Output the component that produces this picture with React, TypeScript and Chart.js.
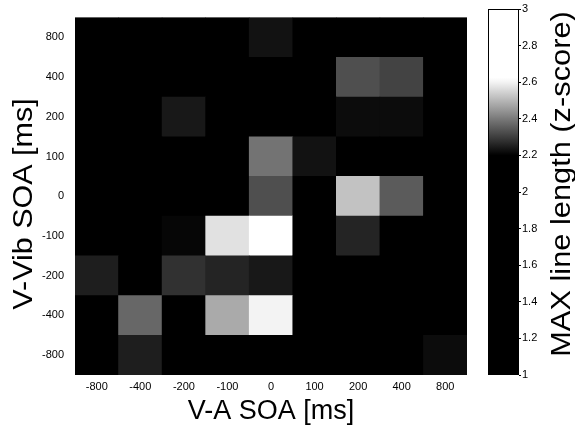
import React, { useEffect, useRef } from 'react';
import { Chart, registerables } from 'chart.js';

Chart.register(...registerables);

// Category labels (SOA in ms)
const X_LABELS = ['-800', '-400', '-200', '-100', '0', '100', '200', '400', '800'];
const Y_LABELS = ['-800', '-400', '-200', '-100', '0', '100', '200', '400', '800']; // bottom -> top

// MAX line length (z-score), one array per V-Vib SOA row, ordered by V-A SOA (X_LABELS)
const rowM800 = [1.4, 2.25, 1.7, 1.8, 1.9, 1.6, 1.5, 1.6, 2.22];
const rowM400 = [1.6, 2.37, 1.9, 2.48, 2.6, 1.8, 1.6, 1.5, 1.4];
const rowM200 = [2.25, 1.8, 2.28, 2.26, 2.24, 1.9, 1.7, 1.6, 1.5];
const rowM100 = [1.7, 1.9, 2.21, 2.57, 2.62, 2.05, 2.26, 1.9, 1.6];
const row0 = [1.6, 1.8, 1.9, 2.15, 2.33, 2.1, 2.52, 2.35, 1.7];
const row100 = [1.5, 1.7, 1.8, 2.1, 2.39, 2.23, 1.9, 1.8, 1.6];
const row200 = [1.3, 1.6, 2.24, 1.9, 1.8, 2.0, 2.22, 2.22, 1.7];
const row400 = [1.4, 1.5, 1.6, 1.8, 1.9, 1.7, 2.33, 2.31, 1.6];
const row800 = [1.5, 1.4, 1.6, 1.7, 2.23, 1.8, 1.7, 1.6, 1.5];

const ROWS = [rowM800, rowM400, rowM200, rowM100, row0, row100, row200, row400, row800];

const CBAR_MIN = 1;
const CBAR_MAX = 3;
const CBAR_STEP = 0.2;

const X_TITLE = 'V-A SOA [ms]';
const Y_TITLE = 'V-Vib SOA [ms]';
const CBAR_TITLE = 'MAX line length (z-score)';

const FONT = '"Liberation Sans", Arial, Helvetica, sans-serif';

function grayFor(v: number): string {
  const t = Math.min(1, Math.max(0, (v - 2.2) / 0.42));
  const g = Math.round(t * 255);
  return `rgb(${g},${g},${g})`;
}

function rotatedTitle(id: string, text: string, cx: number, cy: number, size: number, stretch: number) {
  return {
    id,
    afterDraw(chart: any) {
      const ctx = chart.ctx;
      ctx.save();
      ctx.translate(cx, cy);
      ctx.rotate(-Math.PI / 2);
      ctx.scale(stretch, 1);
      ctx.font = `${size}px ${FONT}`;
      ctx.fillStyle = '#000';
      ctx.textAlign = 'center';
      ctx.textBaseline = 'middle';
      ctx.fillText(text, 0, 0);
      ctx.restore();
    },
  };
}

const blackArea = {
  id: 'blackArea',
  beforeDatasetsDraw(chart: any) {
    const { ctx, chartArea } = chart;
    ctx.save();
    ctx.fillStyle = '#000';
    ctx.fillRect(chartArea.left, chartArea.top, chartArea.right - chartArea.left, chartArea.bottom - chartArea.top);
    ctx.restore();
  },
};

export default function App() {
  const heatRef = useRef<HTMLCanvasElement | null>(null);
  const barRef = useRef<HTMLCanvasElement | null>(null);

  useEffect(() => {
    document.body.style.margin = '0';
    if (!heatRef.current || !barRef.current) return;

    const datasets = ROWS.map((row, ri) => ({
      label: Y_LABELS[ri],
      data: row.map(() => [ri - 0.5, ri + 0.5]),
      backgroundColor: row.map((v) => grayFor(v)),
      borderWidth: 0,
      barPercentage: 1,
      categoryPercentage: 1,
      grouped: false,
    }));

    const heat = new Chart(heatRef.current, {
      type: 'bar',
      data: { labels: X_LABELS, datasets: datasets as any },
      options: {
        responsive: false,
        animation: false,
        layout: { padding: { top: 9, left: 0, right: 3, bottom: 0 } },
        plugins: { legend: { display: false }, tooltip: { enabled: false } },
        scales: {
          x: {
            type: 'category',
            grid: { display: false, drawTicks: false },
            border: { display: false },
            ticks: { color: '#000', font: { family: FONT, size: 11 }, padding: 5, maxRotation: 0, autoSkip: false },
            title: { display: true, text: X_TITLE, color: '#000', font: { family: FONT, size: 27 }, padding: { top: 0, bottom: 1 } },
            afterFit(scale: any) { scale.height = 54; },
          },
          y: {
            type: 'linear',
            min: -0.5,
            max: 8.5,
            grid: { display: false, drawTicks: false },
            border: { display: false },
            afterBuildTicks(scale: any) {
              scale.ticks = Y_LABELS.map((_, i) => ({ value: i }));
            },
            ticks: {
              autoSkip: false,
              color: '#000',
              font: { family: FONT, size: 11 },
              padding: 11,
              callback: (v: any) => {
                const i = Math.round(Number(v));
                return Y_LABELS[i] !== undefined ? Y_LABELS[i] : '';
              },
            },
            afterFit(scale: any) { scale.width = 75; },
          },
        },
      },
      plugins: [blackArea, rotatedTitle('yTitle', Y_TITLE, 25, 204, 27, 1.13)],
    });

    const cbar = new Chart(barRef.current, {
      type: 'bar',
      data: {
        labels: ['cbar'],
        datasets: [
          {
            data: [[CBAR_MIN, CBAR_MAX]] as any,
            backgroundColor: (c: any) => {
              const chart = c.chart;
              if (!chart.chartArea) return '#000';
              const ys = chart.scales.y;
              const g = chart.ctx.createLinearGradient(0, ys.getPixelForValue(CBAR_MIN), 0, ys.getPixelForValue(CBAR_MAX));
              const n = 80;
              for (let i = 0; i <= n; i++) {
                const v = CBAR_MIN + ((CBAR_MAX - CBAR_MIN) * i) / n;
                g.addColorStop(i / n, grayFor(v));
              }
              return g;
            },
            borderColor: '#000',
            borderWidth: 1,
            borderSkipped: false,
            barPercentage: 1,
            categoryPercentage: 1,
            inflateAmount: 0,
          } as any,
        ],
      },
      options: {
        responsive: false,
        animation: false,
        layout: { padding: { top: 9, left: 18, right: 0, bottom: 54 } },
        plugins: { legend: { display: false }, tooltip: { enabled: false } },
        scales: {
          x: { display: false },
          y: {
            type: 'linear',
            position: 'right',
            min: CBAR_MIN,
            max: CBAR_MAX,
            grid: { display: true, drawOnChartArea: false, drawTicks: true, tickLength: 2, color: '#000' },
            border: { display: false },
            ticks: {
              stepSize: CBAR_STEP,
              color: '#000',
              font: { family: FONT, size: 11 },
              padding: 1,
              callback: (v: any) => String(Math.round(Number(v) * 10) / 10),
            },
            afterFit(scale: any) { scale.width = 56; },
          },
        },
      },
      plugins: [rotatedTitle('cbTitle', CBAR_TITLE, 93, 184, 27, 1.14)],
    });

    return () => {
      heat.destroy();
      cbar.destroy();
    };
  }, []);

  return (
    <div style={{ position: 'relative', width: 575, height: 429, background: '#fff', overflow: 'hidden' }}>
      <canvas ref={heatRef} width={470} height={429} style={{ position: 'absolute', left: 0, top: 0 }} />
      <canvas ref={barRef} width={105} height={429} style={{ position: 'absolute', left: 470, top: 0 }} />
    </div>
  );
}
